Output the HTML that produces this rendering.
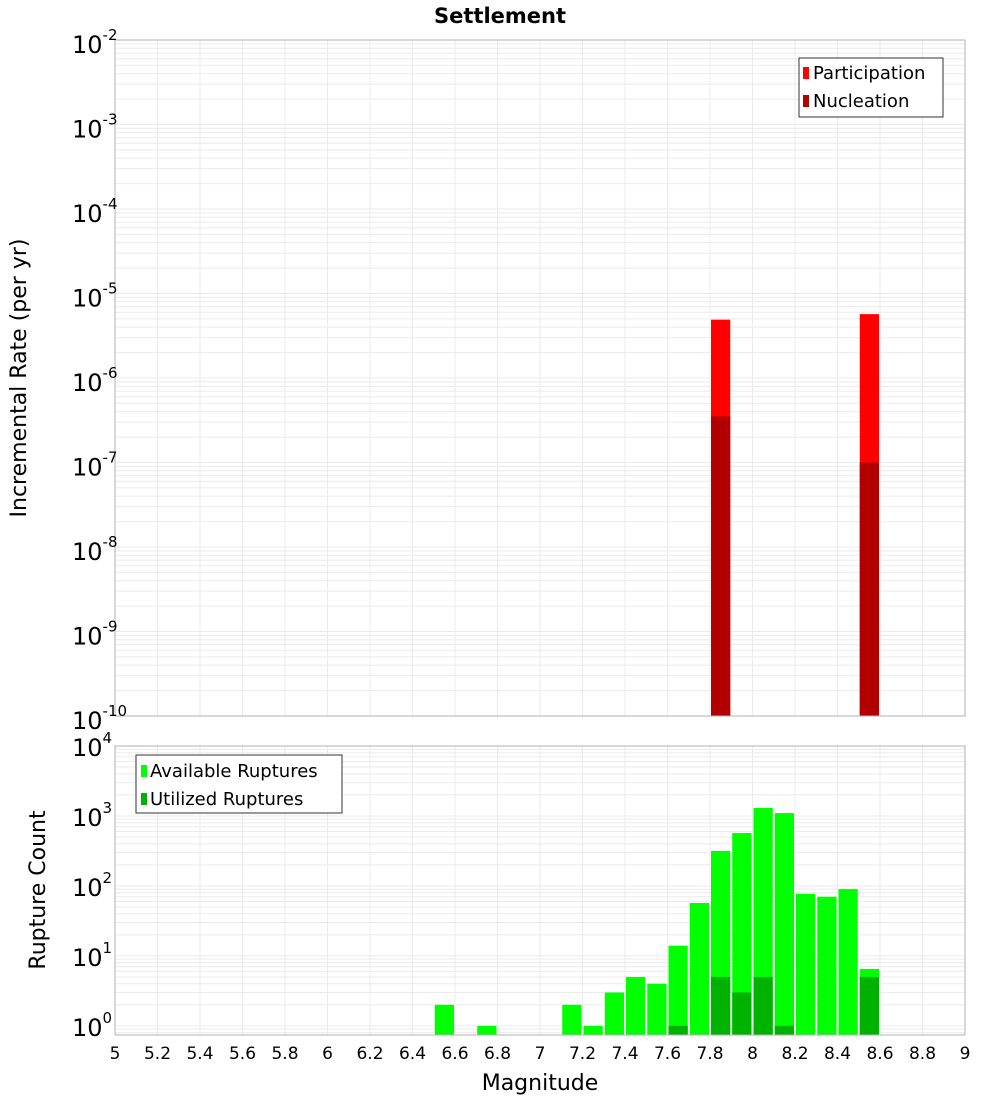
<!DOCTYPE html>
<html><head><meta charset="utf-8"><style>
body{margin:0;background:#fff;}
svg text{font-family:"DejaVu Sans","Liberation Sans",sans-serif;}
</style></head><body>
<svg id="c" width="1000" height="1100" xmlns="http://www.w3.org/2000/svg"></svg>
<script>
const topCenters=[7.85,8.55];
const participation=[4.9e-6,5.7e-6];
const nucleation=[3.5e-7,1.0e-7];
const botCenters=[6.55,6.75,7.15,7.25,7.35,7.45,7.55,7.65,7.75,7.85,7.95,8.05,8.15,8.25,8.35,8.45,8.55];
const available=[2,1,2,1,3,5,4,14,57,316,570,1300,1100,77,70,90,6.5];
const utilCenters=[7.65,7.85,7.95,8.05,8.15,8.55];
const utilized=[1,5,3,5,1,5];
const xTicks=[5,5.2,5.4,5.6,5.8,6,6.2,6.4,6.6,6.8,7,7.2,7.4,7.6,7.8,8,8.2,8.4,8.6,8.8,9];
const topExps=[-2,-3,-4,-5,-6,-7,-8,-9,-10];
const botExps=[4,3,2,1,0];
const binW=0.1;

const NS="http://www.w3.org/2000/svg";
const svg=document.getElementById('c');
function mk(t,a,p){const e=document.createElementNS(NS,t);for(const k in a)e.setAttribute(k,a[k]);(p||svg).appendChild(e);return e;}
const X0=115,X1=965;
const x=v=>X0+(v-5)/4*(X1-X0);
const T0=40,T1=716;
const yT=v=>T0+(-2-Math.log10(v))/8*(T1-T0);
const B0=746,B1=1035;
const bMin=Math.log10(0.74),bMax=4;
const yB=v=>B0+(bMax-Math.log10(v))/(bMax-bMin)*(B1-B0);

function grid(g,y0,y1,yf,lo,hi){
  for(const t of xTicks){const l=mk('line',{x1:x(t),x2:x(t),y1:y0,y2:y1,stroke:'#ebebeb'},g);}
  for(let e=lo;e<hi;e++)for(let m=1;m<10;m++){const yy=yf(m*Math.pow(10,e));if(yy<y0||yy>y1)continue;
    const l=mk('line',{x1:X0,x2:X1,y1:yy,y2:yy,stroke:'#ebebeb'},g);}
}
// top panel
const gt=mk('g',{});
grid(gt,T0,T1,yT,-10,-2);
topCenters.forEach((c,i)=>{
  const r=mk('rect',{x:x(c-binW/2)+1,width:x(c+binW/2)-x(c-binW/2)-2,y:yT(participation[i]),height:T1-yT(participation[i]),fill:'#ff0000'},gt);
  
  const n=mk('rect',{x:x(c-binW/2)+1,width:x(c+binW/2)-x(c-binW/2)-2,y:yT(nucleation[i]),height:T1-yT(nucleation[i]),fill:'#b20000'},gt);
  
});
mk('rect',{x:X0,y:T0,width:X1-X0,height:T1-T0,fill:'none',stroke:'#b0b0b0'},gt);
topExps.forEach(e=>{const yy=yT(Math.pow(10,e));const t=mk('text',{x:72,y:yy+13,'font-size':24},gt);
  
  t.innerHTML='10<tspan dy="-13" font-size="15">'+e+'</tspan>';});
// bottom panel
const gb=mk('g',{});
grid(gb,B0,B1,yB,-1,4);
botCenters.forEach((c,i)=>{const r=mk('rect',{x:x(c-binW/2)+1,width:x(c+binW/2)-x(c-binW/2)-2,y:yB(available[i]),height:B1-yB(available[i]),fill:'#00ff00'},gb);
  });
utilCenters.forEach((c,i)=>{const r=mk('rect',{x:x(c-binW/2)+1,width:x(c+binW/2)-x(c-binW/2)-2,y:yB(utilized[i]),height:B1-yB(utilized[i]),fill:'#00b200'},gb);
  });
mk('rect',{x:X0,y:B0,width:X1-X0,height:B1-B0,fill:'none',stroke:'#b0b0b0'},gb);
botExps.forEach(e=>{const yy=yB(Math.pow(10,e));const t=mk('text',{x:72,y:yy+10,'font-size':24},gb);
  
  t.innerHTML='10<tspan dy="-13" font-size="15">'+e+'</tspan>';});
xTicks.forEach(t=>{const tx=mk('text',{x:x(t),y:1059,'font-size':17,'text-anchor':'middle'},gb);
  tx.textContent=String(t);});
</script>
<svg width="1000" height="1100" style="position:absolute;left:0;top:0" xmlns="http://www.w3.org/2000/svg">
<text x="500" y="23" font-size="21" font-weight="bold" text-anchor="middle">Settlement</text>
<text transform="translate(26,378) rotate(-90)" font-size="22" text-anchor="middle">Incremental Rate (per yr)</text>
<text transform="translate(45,890) rotate(-90)" font-size="22" text-anchor="middle">Rupture Count</text>
<text x="540" y="1090" font-size="22" text-anchor="middle">Magnitude</text>
<g>
<rect x="799" y="58" width="144" height="59" fill="#fff" stroke="#333"/>
<rect x="803" y="67" width="6" height="12" fill="#ff0000"/>
<text x="813" y="79" font-size="18">Participation</text>
<rect x="803" y="95" width="6" height="12" fill="#b20000"/>
<text x="813" y="107" font-size="18">Nucleation</text>
</g>
<g>
<rect x="136" y="755" width="206" height="58" fill="#fff" stroke="#333"/>
<rect x="141" y="765" width="6" height="12" fill="#00ff00"/>
<text x="150" y="777" font-size="18">Available Ruptures</text>
<rect x="141" y="793" width="6" height="12" fill="#00b200"/>
<text x="150" y="805" font-size="18">Utilized Ruptures</text>
</g>
</svg>
</body></html>
